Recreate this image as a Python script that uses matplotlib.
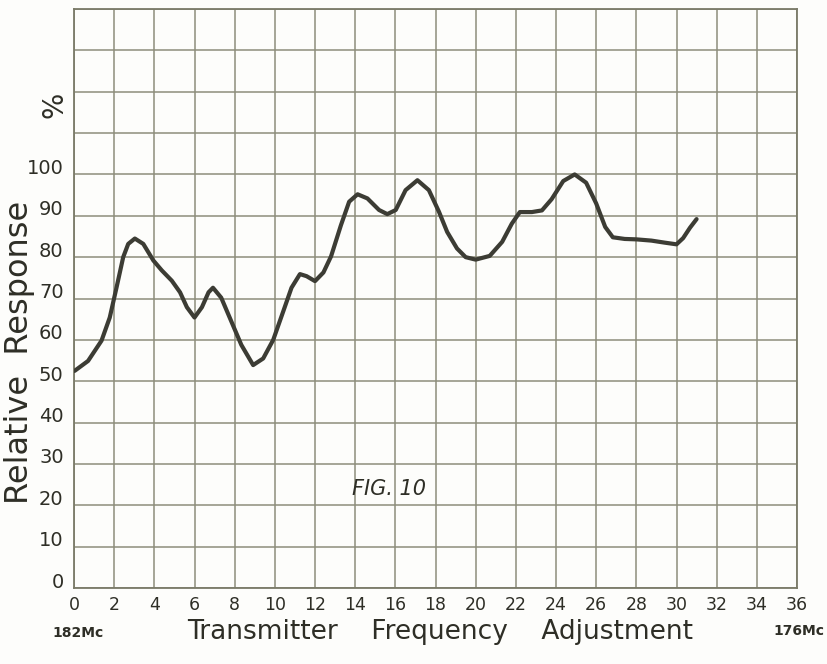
import matplotlib
matplotlib.use("Agg")
import matplotlib.pyplot as plt
import matplotlib.transforms as mtransforms

# Data
freq = [0.03, 0.7, 1.37, 1.78, 2.12, 2.45, 2.7, 3.03, 3.45, 3.95, 4.37, 4.87, 5.28,
        5.62, 6.0, 6.37, 6.7, 6.92, 7.33, 7.83, 8.33, 8.92, 9.42, 9.92, 10.42,
        10.83, 11.25, 11.58, 12.0, 12.42, 12.8, 13.29, 13.7, 14.12, 14.61, 15.19,
        15.6, 16.02, 16.51, 17.1, 17.67, 18.17, 18.58, 19.07, 19.5, 20.0, 20.7,
        21.32, 21.8, 22.2, 22.8, 23.3, 23.78, 24.36, 24.93, 25.5, 26.0, 26.45,
        26.83, 27.42, 28.0, 28.75, 29.42, 30.0, 30.33, 30.67, 31.0]
response = [52.5, 54.9, 59.8, 65.4, 72.7, 80.0, 83.2, 84.5, 83.2, 79.2, 76.8, 74.3,
            71.5, 67.9, 65.4, 67.9, 71.5, 72.6, 70.2, 64.5, 58.8, 53.9, 55.5, 60.0,
            66.9, 72.6, 75.9, 75.4, 74.2, 76.3, 80.2, 87.7, 93.4, 95.2, 94.2, 91.4,
            90.4, 91.4, 96.2, 98.6, 96.2, 91.0, 86.1, 82.1, 80.0, 79.4, 80.3,
            83.7, 88.1, 90.9, 90.9, 91.3, 94.0, 98.4, 100.0, 98.0, 93.0, 87.3,
            84.8, 84.4, 84.3, 84.0, 83.5, 83.1, 84.6, 87.1, 89.2]

x_ticks = list(range(0, 37, 2))
x_tick_labels = [str(v) for v in x_ticks]
y_ticks = list(range(0, 141, 10))
y_tick_labels = [str(v) if v <= 100 else "" for v in y_ticks]

grid_c = "#8e8e7c"
ink = "#2e2e26"
curve_c = "#3c3c34"

fig = plt.figure(figsize=(8.27, 6.64), dpi=100)
fig.patch.set_facecolor("#fdfdfb")
ax = fig.add_axes([74 / 827, 1 - 588 / 664, (797 - 74) / 827, (588 - 9) / 664])
ax.set_facecolor("#fdfdfb")

ax.plot(freq, response, color=curve_c, lw=3.0, solid_joinstyle="round",
        solid_capstyle="round", zorder=3)

ax.set_xlim(0, 36)
ax.set_ylim(0, 140)
ax.set_xticks(x_ticks)
ax.set_xticklabels(x_tick_labels, fontsize=12.5, color=ink)
ax.set_yticks(y_ticks)
ax.set_yticklabels(y_tick_labels, fontsize=14, color=ink)
ax.tick_params(length=0, pad=6)
ax.grid(True, color=grid_c, lw=1.1)
for s in ax.spines.values():
    s.set_color("#7a7a68")
    s.set_linewidth(1.3)

off = mtransforms.ScaledTranslation(-2 / 100, 8 / 100, fig.dpi_scale_trans)
for lab in ax.get_yticklabels():
    lab.set_transform(lab.get_transform() + off)

ax.text(15.7, 24, "FIG. 10", fontsize=15, style="italic", color=ink,
        ha="center", va="center")

fig.text(20 / 827, 1 - 352 / 664, "Relative  Response", rotation=90, fontsize=23,
         color=ink, ha="center", va="center")
fig.text(55 / 827, 1 - 105 / 664, "%", rotation=90, fontsize=20,
         color=ink, ha="center", va="center")
fig.text(440 / 827, 1 - 632 / 664, "Transmitter    Frequency    Adjustment",
         fontsize=19, color=ink, ha="center", va="center")
fig.text(78 / 827, 1 - 633 / 664, "182Mc", fontsize=10, color=ink,
         ha="center", va="center", weight="bold")
fig.text(799 / 827, 1 - 631 / 664, "176Mc", fontsize=10, color=ink,
         ha="center", va="center", weight="bold")

fig.savefig("out.png", dpi=100, facecolor=fig.get_facecolor())
